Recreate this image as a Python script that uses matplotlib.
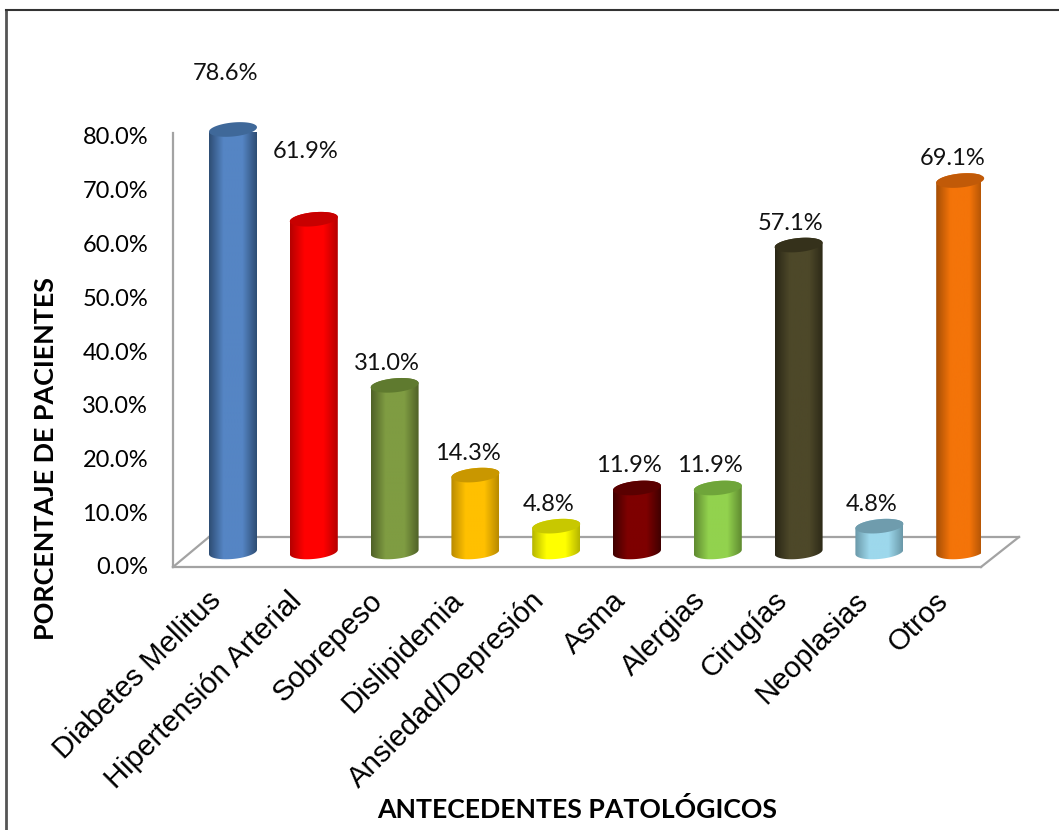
import matplotlib
matplotlib.use("Agg")
import matplotlib.pyplot as plt
import numpy as np
from matplotlib.colors import LinearSegmentedColormap
from matplotlib.lines import Line2D
from matplotlib.patches import Polygon
from matplotlib.transforms import ScaledTranslation

# data
categories = ["Diabetes Mellitus", "Hipertensión Arterial", "Sobrepeso", "Dislipidemia",
              "Ansiedad/Depresión", "Asma", "Alergias", "Cirugías", "Neoplasias", "Otros"]
values = [78.6, 61.9, 31.0, 14.3, 4.8, 11.9, 11.9, 57.1, 4.8, 69.1]
y_ticks = [0, 10, 20, 30, 40, 50, 60, 70, 80]

body_colors = ["#5585C4", "#FF0000", "#7F9C42", "#FFC000", "#FFFF00",
               "#7E0000", "#92D24E", "#4D4829", "#9DD8EC", "#F47409"]
edge_colors = ["#2E4D74", "#B50000", "#4F6127", "#B88A00", "#B5B500",
               "#400000", "#5F8A30", "#2A2716", "#6A98A8", "#A54E05"]
top_colors = ["#3F6899", "#C80000", "#5F7A2F", "#C99700", "#C8C800",
              "#5A0000", "#6FA53A", "#35311B", "#6F9CAD", "#C15A08"]

W, H = 1059, 830
X_LEFT, X_RIGHT, Y_BOTTOM, Y_TOP = 173, 981, 567, 133
STEP = 80.8
FIRST = 233
PX_PER_PCT = 5.375
BASE = 2.8  # bars stand a bit inside the floor
GRAY = "#A3A3A3"

fig = plt.figure(figsize=(W / 100, H / 100), dpi=100)
ax = fig.add_axes([X_LEFT / W, 1 - Y_BOTTOM / H, (X_RIGHT - X_LEFT) / W, (Y_BOTTOM - Y_TOP) / H])
xlim = ((X_LEFT - FIRST) / STEP, (X_RIGHT - FIRST) / STEP)
ylim = (0, (Y_BOTTOM - Y_TOP) / PX_PER_PCT)

half_w = 24 / STEP
semi_h = 7.0 / PX_PER_PCT
tilt = 2.2 / PX_PER_PCT


def ellipse_pts(cx, cy, t):
    return np.column_stack([cx + half_w * np.cos(t),
                            cy + semi_h * np.sin(t) + tilt * np.cos(t)])


def draw_cylinder(ax, i, value, body, edge, top):
    y_top = value + BASE
    lower = ellipse_pts(i, BASE, np.linspace(np.pi, 2 * np.pi, 40))
    upper = ellipse_pts(i, y_top, np.linspace(0, np.pi, 40))
    poly = Polygon(np.vstack([lower, upper]), closed=True, transform=ax.transData,
                   facecolor="none", edgecolor="none", clip_on=False)
    ax.add_patch(poly)
    cmap = LinearSegmentedColormap.from_list("c", [(0, edge), (0.3, body), (0.7, body), (1, edge)])
    img = ax.imshow(np.linspace(0, 1, 128).reshape(1, -1), cmap=cmap, aspect="auto",
                    extent=(i - half_w, i + half_w, BASE - 3, y_top + 3), zorder=3)
    img.set_clip_box(None)
    img.set_clip_path(poly)
    cap = ellipse_pts(i, y_top, np.linspace(0, 2 * np.pi, 60))
    ax.add_patch(Polygon(cap, closed=True, facecolor=top, edgecolor="none", zorder=4, clip_on=False))


for i in range(len(values)):
    draw_cylinder(ax, i, values[i], body_colors[i], edge_colors[i], top_colors[i])

ax.set_xlim(xlim)
ax.set_ylim(ylim)

# floor of the 3d box
depth_x, depth_y = 38, 30
floor_kw = dict(color=GRAY, lw=1.6, clip_on=False, zorder=1, solid_capstyle="projecting")
ax.plot([xlim[0], xlim[0] + 36 / STEP], [0, depth_y / PX_PER_PCT], **floor_kw)
ax.plot([xlim[0] + 36 / STEP, xlim[1] + depth_x / STEP], [depth_y / PX_PER_PCT] * 2, **floor_kw)
ax.plot([xlim[1], xlim[1] + depth_x / STEP], [0, depth_y / PX_PER_PCT], **floor_kw)

for side in ["top", "right"]:
    ax.spines[side].set_visible(False)
for side in ["left", "bottom"]:
    ax.spines[side].set_color(GRAY)
    ax.spines[side].set_linewidth(1.6)

label_font = "Lato"
ax.set_yticks(y_ticks)
ax.set_yticklabels([f"{v:.1f}%" for v in y_ticks], fontsize=17, family=label_font)
ax.tick_params(axis="y", length=0, pad=18)
for lab in ax.get_yticklabels():
    lab.set_transform(lab.get_transform() + ScaledTranslation(0, 1 / 100, fig.dpi_scale_trans))

ax.set_xticks(range(len(categories)))
ax.set_xticklabels(categories, rotation=45, ha="right", va="top", rotation_mode="anchor",
                   fontsize=21.2, family="Liberation Sans")
ax.tick_params(axis="x", length=0, pad=14)
for lab in ax.get_xticklabels():
    lab.set_transform(lab.get_transform() + ScaledTranslation(-26 / 100, 0, fig.dpi_scale_trans))

# value labels, the first two sit higher than the others
offsets = {0: 56, 1: 68}
for i, v in enumerate(values):
    ax.annotate(f"{v:.1f}%", xy=(i, v + BASE), xytext=(-8 * 0.72, offsets.get(i, 22) * 0.72),
                textcoords="offset points", ha="center", va="center", annotation_clip=False,
                fontsize=17, family=label_font, color="#111111", zorder=6)

fig.text(46 / W, 1 - 459 / H, "PORCENTAJE DE PACIENTES", rotation=90, ha="center", va="center",
         fontsize=19.4, fontweight="bold", family=label_font)
fig.text(577 / W, 1 - 809 / H, "ANTECEDENTES PATOLÓGICOS", ha="center", va="center",
         fontsize=19.2, fontweight="bold", family=label_font)

# outer chart frame, right and bottom edges are cut off
fig.add_artist(Line2D([6 / W, 6 / W], [0, 1 - 10 / H], color="#555555", lw=2))
fig.add_artist(Line2D([6 / W, 1], [1 - 10 / H, 1 - 10 / H], color="#333333", lw=1.5))

fig.savefig("out.png", dpi=100)
